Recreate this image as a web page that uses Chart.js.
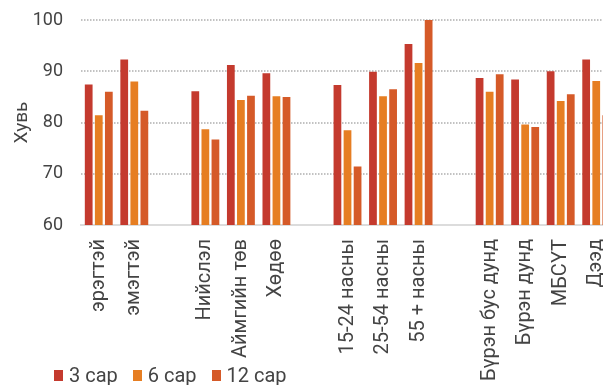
<!DOCTYPE html>
<html>
<head>
<meta charset="utf-8">
<script src="https://cdn.jsdelivr.net/npm/chart.js@4/dist/chart.umd.min.js"></script>
<style>
  html, body { margin: 0; padding: 0; background: #fff; overflow: hidden; }
  #wrap { position: relative; width: 614px; height: 385px; }
  #chart { display: block; }
  .legend {
    position: absolute; left: 54px; top: 365px; height: 20px; line-height: 20px;
    display: flex; align-items: center;
    font: 20px Roboto, sans-serif; color: #444;
  }
  .legend .item { display: flex; align-items: center; margin-right: 15px; }
  .legend .box { width: 9px; height: 11px; margin-right: 6px; margin-top: 1px; }
</style>
</head>
<body>
<div id="wrap">
  <canvas id="chart" width="614" height="385"></canvas>
  <div class="legend" id="legend"></div>
</div>
<script>
// Groups are separated by an empty category ('' label, null values).
const CATEGORIES = [
  'эрэгтэй', 'эмэгтэй', '',
  'Нийслэл', 'Аймгийн төв', 'Хөдөө', '',
  '15-24 насны', '25-54 насны', '55 + насны', '',
  'Бүрэн бус дунд', 'Бүрэн дунд', 'МБСҮТ', 'Дээд'
];
const SERIES_NAMES = ['3 сар', '6 сар', '12 сар'];
const SERIES_COLORS = ['#C43A2E', '#E67E22', '#D55A28'];

const MONTH_3  = [87.4, 92.3, null, 86.1, 91.2, 89.6, null, 87.3, 89.9, 95.3, null, 88.7, 88.4, 90.0, 92.3];
const MONTH_6  = [81.4, 88.0, null, 78.7, 84.4, 85.1, null, 78.5, 85.1, 91.6, null, 86.0, 79.6, 84.2, 88.1];
const MONTH_12 = [86.0, 82.3, null, 76.7, 85.2, 85.0, null, 71.4, 86.5, 100.0, null, 89.4, 79.1, 85.5, 81.4];

const Y_MIN = 60, Y_MAX = 100, Y_STEP = 10;

const datasets = [MONTH_3, MONTH_6, MONTH_12].map((data, i) => ({
  label: SERIES_NAMES[i],
  data,
  backgroundColor: SERIES_COLORS[i],
  borderWidth: 0,
  categoryPercentage: 0.85,
  barPercentage: 0.77,
}));

const tickColor = '#444';

// Dotted horizontal lines at each y tick (the 60 baseline is the x border)
const dottedGrid = {
  id: 'dottedGrid',
  beforeDatasetsDraw(chart) {
    const { ctx, chartArea, scales } = chart;
    const y = scales.y;
    ctx.save();
    ctx.strokeStyle = '#c2c2c2';
    ctx.lineWidth = 2;
    ctx.setLineDash([1.5, 1.5]);
    for (let v = Y_MIN + Y_STEP; v <= Y_MAX; v += Y_STEP) {
      const py = Math.round(y.getPixelForValue(v));
      ctx.beginPath();
      ctx.moveTo(chartArea.left, py);
      ctx.lineTo(chartArea.right, py);
      ctx.stroke();
    }
    ctx.restore();
  },
};

new Chart(document.getElementById('chart'), {
  type: 'bar',
  data: { labels: CATEGORIES, datasets },
  plugins: [dottedGrid],
  options: {
    responsive: false,
    animation: false,
    layout: { padding: { top: 20, left: 0, right: 0, bottom: 0 } },
    plugins: {
      legend: { display: false },
      tooltip: { enabled: false },
    },
    scales: {
      x: {
        grid: { display: false, drawTicks: false },
        border: { display: true, color: '#dcdcdc', width: 2 },
        ticks: {
          autoSkip: false,
          minRotation: 90,
          maxRotation: 90,
          padding: 14,
          color: tickColor,
          font: { family: 'Roboto', size: 20 },
        },
        afterFit: (s) => { s.height = 160; s.paddingLeft = 0; s.paddingRight = 0; },
      },
      y: {
        min: Y_MIN,
        max: Y_MAX,
        grid: { display: false, drawTicks: false },
        border: { display: false },
        ticks: {
          stepSize: Y_STEP,
          padding: 18,
          color: tickColor,
          font: { family: 'Roboto', size: 18 },
        },
        title: {
          display: true,
          text: 'Хувь',
          color: tickColor,
          font: { family: 'Roboto', size: 19 },
          padding: { top: 11, bottom: 0 },
        },
        afterFit: (s) => { s.width = 81; s.paddingTop = 0; s.paddingBottom = 0; },
      },
    },
  },
});

// HTML legend built from the same series names and colours
const legend = document.getElementById('legend');
SERIES_NAMES.forEach((name, i) => {
  const item = document.createElement('div');
  item.className = 'item';
  const box = document.createElement('span');
  box.className = 'box';
  box.style.background = SERIES_COLORS[i];
  const text = document.createElement('span');
  text.textContent = name;
  item.appendChild(box);
  item.appendChild(text);
  legend.appendChild(item);
});
</script>
</body>
</html>
